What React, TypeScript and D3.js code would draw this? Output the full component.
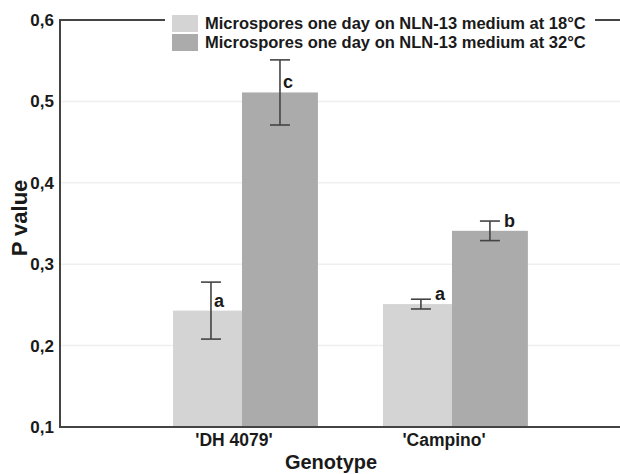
import * as d3 from "d3";

const genotypes = ["'DH 4079'", "'Campino'"];
const conditions = [
  "Microspores one day on NLN-13 medium at 18°C",
  "Microspores one day on NLN-13 medium at 32°C",
];
const means = [
  [0.243, 0.511],
  [0.251, 0.341],
];
const errors = [
  [0.035, 0.04],
  [0.006, 0.012],
];
const letters = [
  ["a", "c"],
  ["a", "b"],
];
const yTicks = [0.1, 0.2, 0.3, 0.4, 0.5, 0.6];
const colors = ["#d4d4d4", "#ababab"];

const W = 620;
const H = 474;
const left = 60;
const top = 20;
const bottom = 427;
const font = "'Liberation Sans', Arial, sans-serif";
const ink = "#1a1a1a";

export default function App() {
  const y = d3.scaleLinear().domain([0.1, 0.6]).range([bottom, top]);
  const x0 = d3.scalePoint<string>().domain(genotypes).range([left, 634]).padding(0.867);
  const x1 = d3.scaleBand<string>().domain(conditions).range([-69, 69]);
  const barW = x1.bandwidth() * 1.1;
  const cap = 10;
  const fmt = (v: number) => d3.format(".1f")(v).replace(".", ",");

  return (
    <svg width={W} height={H} style={{ position: "absolute", left: 0, top: 0 }} fontFamily={font}>
      <rect width={W} height={H} fill="#fff" />
      {yTicks.slice(1, -1).map((t) => (
        <line key={t} x1={left} x2={W} y1={y(t)} y2={y(t)} stroke="#efefef" strokeWidth={1.5} />
      ))}
      {genotypes.map((g, gi) => (
        <g key={g}>
          {conditions.map((c, ci) => {
            const bx = x0(g)! + x1(c)!;
            return (
              <rect key={c} x={bx} y={y(means[gi][ci])} width={barW} height={bottom - y(means[gi][ci])} fill={colors[ci]} />
            );
          })}
          {conditions.map((c, ci) => {
            const cx = x0(g)! + x1(c)! + barW / 2;
            const m = means[gi][ci];
            const e = errors[gi][ci];
            const yHi = y(m + e);
            const yLo = y(m - e);
            const base = y(m) - 4;
            const lx = yHi < base - 18 ? cx + 3 : cx + cap + 4;
            return (
              <g key={c}>
                <line x1={cx} x2={cx} y1={yHi} y2={yLo} stroke="#444" strokeWidth={1.6} />
                <line x1={cx - cap} x2={cx + cap} y1={yHi} y2={yHi} stroke="#444" strokeWidth={1.6} />
                <line x1={cx - cap} x2={cx + cap} y1={yLo} y2={yLo} stroke="#444" strokeWidth={1.6} />
                <text x={lx} y={base} fontSize={18} fontWeight="bold" fill={ink}>
                  {letters[gi][ci]}
                </text>
              </g>
            );
          })}
          <text x={x0(g)! - 8} y={446} textAnchor="middle" fontSize={17.5} fontWeight="bold" fill={ink}>
            {g}
          </text>
        </g>
      ))}
      <path d={`M${W},${top}H${left}V${bottom}H${W}`} fill="none" stroke="#444" strokeWidth={2} />
      {yTicks.map((t) => (
        <text key={t} x={54} y={y(t) + 6} textAnchor="end" fontSize={17} fontWeight="bold" fill={ink}>
          {fmt(t)}
        </text>
      ))}
      <rect x={165} y={top - 2} width={430} height={36} fill="#fff" />
      {conditions.map((c, ci) => (
        <g key={c} transform={`translate(172,${15 + ci * 19})`}>
          <rect width={26} height={17} fill={colors[ci]} />
          <text x={33} y={14} fontSize={16.5} fontWeight="bold" fill={ink}>
            {c}
          </text>
        </g>
      ))}
      <text transform={`translate(27,218) rotate(-90)`} textAnchor="middle" fontSize={22} fontWeight="bold" fill={ink}>
        P value
      </text>
      <text x={331} y={469} textAnchor="middle" fontSize={20} fontWeight="bold" fill={ink}>
        Genotype
      </text>
    </svg>
  );
}
